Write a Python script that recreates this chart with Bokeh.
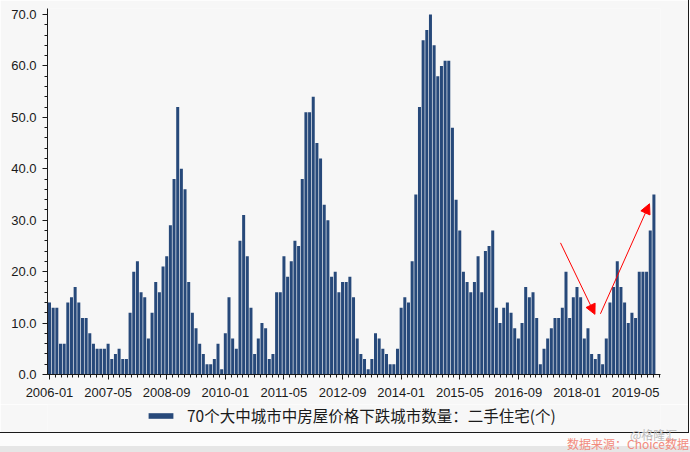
import pandas as pd
from bokeh.plotting import figure
from bokeh.models import (Range1d, FixedTicker, SingleIntervalTicker, PrintfTickFormatter,
                          Legend, LegendItem, Arrow, NormalHead, Div, ColumnDataSource)
from bokeh.layouts import column
from bokeh.embed import file_html
from bokeh.resources import INLINE

# 70个大中城市中二手住宅价格下跌的城市数量（月度，个）
falling_cities = [
    14, 13, 13, 6, 6, 14, 15, 17, 14, 11, 11, 8, 6, 5, 5, 5,
    6, 3, 4, 5, 3, 3, 12, 20, 22, 16, 15, 7, 12, 18, 16, 21,
    23, 29, 38, 52, 40, 36, 18, 12, 9, 6, 4, 2, 2, 3, 6, 1,
    8, 15, 7, 5, 26, 31, 23, 13, 4, 7, 10, 9, 3, 4, 16, 16,
    23, 19, 22, 26, 25, 38, 51, 51, 54, 45, 42, 33, 30, 19, 20, 16,
    18, 18, 19, 15, 7, 4, 3, 1, 3, 8, 7, 5, 4, 2, 2, 5,
    13, 15, 14, 22, 35, 52, 65, 67, 70, 64, 58, 60, 61, 61, 48, 34,
    28, 20, 18, 16, 18, 23, 16, 24, 25, 28, 13, 10, 13, 14, 12, 9,
    7, 10, 17, 15, 16, 11, 2, 5, 7, 9, 11, 11, 13, 20, 11, 15,
    17, 15, 7, 9, 4, 3, 4, 2, 7, 14, 17, 22, 17, 14, 10, 12,
    11, 20, 20, 20, 28, 35,
]
months = list(pd.date_range("2006-01-01", periods=len(falling_cities), freq="MS").strftime("%Y-%m"))
tick_labels = ["2006-01", "2007-05", "2008-09", "2010-01", "2011-05", "2012-09",
               "2014-01", "2015-05", "2016-09", "2018-01", "2019-05"]
series_name = "70个大中城市中房屋价格下跌城市数量：二手住宅(个)"

# trend arrows (month index, value)
arrow_down = dict(x_start=139.5, y_start=25.6, x_end=148.9, y_end=11.7)
arrow_up = dict(x_start=150.4, y_start=11.8, x_end=163.8, y_end=33.2)

BG = "#f7f7f7"
BAR = "#27497a"
INK = "#1a1a1a"
LATIN = "Liberation Sans"
CJK = "Noto Sans CJK SC"
EDGE = "1px solid #1a1a1a"

src = ColumnDataSource(dict(x=list(range(len(falling_cities))), top=falling_cities, month=months))

# main bar chart
p = figure(width=689, height=404, output_backend="svg", toolbar_location=None,
           x_range=Range1d(-0.546, 166.8), y_range=Range1d(0, 71.17),
           min_border_left=47, min_border_right=29, min_border_top=8, min_border_bottom=30,
           background_fill_color=BG, border_fill_color=BG, outline_line_color=None)
p.styles = {"border-right": EDGE}

bars = p.vbar(x="x", top="top", width=0.82, source=src, fill_color=BAR, line_color=None)

p.xgrid.visible = False
p.ygrid.visible = False

tick_pos = [months.index(t) for t in tick_labels]
minor = [i * 1.6 for i in range(0, 105)]
p.xaxis.ticker = FixedTicker(ticks=tick_pos, minor_ticks=minor)
p.xaxis.major_label_overrides = {pos: lbl for pos, lbl in zip(tick_pos, tick_labels)}
p.yaxis.ticker = SingleIntervalTicker(interval=10, num_minor_ticks=5)
p.yaxis.formatter = PrintfTickFormatter(format="%.1f")

for ax in (p.xaxis, p.yaxis):
    ax.axis_line_color = INK
    ax.major_tick_line_color = INK
    ax.minor_tick_line_color = INK
    ax.major_tick_in = 0
    ax.minor_tick_in = 0
    ax.major_tick_out = 5
    ax.minor_tick_out = 3
    ax.major_label_text_font = LATIN
    ax.major_label_text_font_size = "13px"
    ax.major_label_text_color = INK
p.xaxis.major_label_standoff = 8
p.yaxis.major_label_standoff = 6

for a in (arrow_down, arrow_up):
    p.add_layout(Arrow(end=NormalHead(size=10, fill_color="red", line_color="red"),
                       line_color="red", line_width=1, **a))

# legend strip under the axis; its swatch renderer sits outside the visible range
lf = figure(width=689, height=29, output_backend="svg", toolbar_location=None,
            x_axis_type=None, y_axis_type=None, min_border=0,
            min_border_left=0, min_border_right=0, min_border_top=0, min_border_bottom=0,
            x_range=Range1d(0, 1), y_range=Range1d(0, 1),
            background_fill_color=BG, border_fill_color=BG, outline_line_color=None)
lf.styles = {"border-right": EDGE, "border-bottom": EDGE}
lf.xgrid.visible = False
lf.ygrid.visible = False
swatch = lf.vbar(x=[-10], top=[0], width=0.8, fill_color=BAR, line_color=None)
legend = Legend(items=[LegendItem(label=series_name, renderers=[swatch])],
                location=(98, 7), orientation="horizontal",
                background_fill_alpha=0, border_line_color=None, padding=0, margin=0,
                glyph_width=31, glyph_height=7, label_standoff=11, label_height=18,
                label_text_font=CJK, label_text_font_size="15.5px", label_text_color=INK)
lf.add_layout(legend)

foot = Div(width=690, height=19, margin=0,
           styles={"background": "linear-gradient(#fcfcfc 0 13px, #e6e6e6 13px)",
                   "position": "relative", "overflow": "visible"},
           text=('<span style="position:absolute;left:630px;top:-7px;color:#bdbdbd;'
                 'font:12px \'Noto Sans CJK SC\';white-space:nowrap;">@格隆汇</span>'
                 '<span style="position:absolute;left:567px;top:2px;color:#f28b7d;'
                 'font:12px \'Noto Sans CJK SC\';white-space:nowrap;">数据来源：Choice数据</span>'))

layout = column(p, lf, foot, spacing=0)
open("out.html", "w").write(file_html(layout, INLINE))
